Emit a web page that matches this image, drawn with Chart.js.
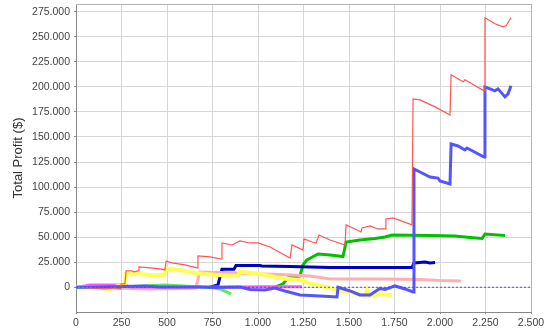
<!DOCTYPE html>
<html>
<head>
<meta charset="utf-8">
<script src="https://cdn.jsdelivr.net/npm/chart.js@4/dist/chart.umd.min.js"></script>
<style>
  html, body { margin: 0; padding: 0; background: #fff; }
  #wrap { width: 544px; height: 332px; }
</style>
</head>
<body>
<div id="wrap"><canvas id="profitChart"></canvas></div>
<script>
// [trade #, total profit $]
const redSeries = [
    [0, 0], [77, -700], [159, -1700], [214, -700], [242, -1700], [247, 3300], [269, 3300],
    [275, 16300], [308, 16300], [319, 15300], [341, 16300], [346, 20300], [407, 19300],
    [462, 18300], [489, 17300], [495, 26200], [527, 24300], [599, 22300], [665, 19300],
    [670, 31200], [736, 30300], [797, 28200], [802, 44200], [857, 42200], [901, 46200],
    [956, 44200], [1000, 44200], [1066, 40200], [1176, 29200], [1187, 42200], [1247, 37200],
    [1253, 48200], [1297, 45200], [1319, 44200], [1335, 52200], [1396, 47200], [1478, 42200],
    [1484, 62200], [1533, 58200], [1566, 55200], [1572, 59200], [1616, 61200], [1659, 58200],
    [1698, 58200], [1703, 68200], [1742, 69200], [1846, 62200], [1852, 188000], [1890, 187000],
    [1973, 180000], [2055, 172000], [2061, 212000], [2127, 205000], [2137, 207000],
    [2242, 196000], [2247, 269000], [2302, 263000], [2346, 260000], [2363, 261000], [2390, 269000]
];
const blueSeries = [
    [0, 0], [132, 300], [379, 1300], [462, 300], [681, 300], [764, -200], [901, 300],
    [956, -2200], [1038, -2700], [1093, -700], [1148, -3700], [1231, -7700], [1341, -8700],
    [1434, -9700], [1440, 0], [1506, -3700], [1560, -7700], [1615, -7700], [1670, -1200],
    [1698, -2200], [1753, 1300], [1808, -1700], [1852, -4700], [1857, 118000], [1890, 115000],
    [1945, 110000], [1989, 109000], [2000, 106000], [2055, 103000], [2061, 143000],
    [2099, 141000], [2137, 137000], [2148, 139000], [2242, 130000], [2247, 200000],
    [2275, 198000], [2302, 196000], [2319, 198000], [2357, 190000], [2374, 193000], [2390, 201000]
];
const greenSeries = [
    [0, 0], [242, 300], [489, 2300], [544, 1800], [681, 300], [764, -700], [791, -1700], [852, -6700]
];
const yellowSeries = [
    [0, 0], [132, -700], [187, -1700], [247, 2300], [269, 3300], [275, 13300], [352, 13300],
    [407, 12300], [484, 12300], [495, 18800], [571, 17300], [659, 14300], [769, 12300],
    [890, 11300], [901, 15800], [1011, 13300], [1137, 8800], [1231, 7300], [1286, 3800],
    [1396, -700], [1434, -2700], [1506, -4700], [1588, -8700], [1599, -2700], [1610, -8700],
    [1670, -6700], [1736, -7700]
];
const magentaSeries = [
    [0, 0], [49, 1300], [77, 2300], [269, 2300], [297, 300], [681, 300], [901, 300],
    [1038, 600], [1242, 600]
];
const pinkSeries = [
    [0, 0], [187, -700], [407, -1700], [571, -1200], [659, -700], [665, 4300], [681, 15300],
    [791, 14800], [956, 13800], [1121, 12800], [1286, 11300], [1396, 8300], [1670, 8300],
    [1890, 7800], [2000, 6800], [2115, 6300]
];
const darkBlueSeries = [
    [736, 0], [780, 2300], [802, 18000], [868, 18000], [879, 21600], [1011, 21600],
    [1022, 21300], [1176, 20800], [1396, 19800], [1846, 19600], [1857, 24300], [1918, 25200],
    [1945, 24300], [1973, 24600]
];
const darkGreenSeries = [
    [1093, 0], [1137, 3300], [1165, 9300], [1231, 11300], [1247, 22300], [1269, 27200],
    [1330, 33200], [1396, 32200], [1467, 30700], [1484, 45200], [1560, 47200], [1643, 48700],
    [1698, 50200], [1736, 52200], [1945, 51700], [2082, 51200], [2165, 49700], [2231, 48700],
    [2247, 53200], [2357, 51700]
];
const zeroLine = [[0, 0], [2500, 0]];

const xTicks = [0, 250, 500, 750, 1000, 1250, 1500, 1750, 2000, 2250, 2500];
const yTicks = [0, 25000, 50000, 75000, 100000, 125000, 150000, 175000, 200000, 225000, 250000, 275000];

function toPoints(arr) {
    return arr.map(p => ({ x: p[0], y: p[1] }));
}

function dotted(n) {
    return String(n).replace(/\B(?=(\d{3})+(?!\d))/g, '.');
}

function line(data, color, width) {
    return {
        data: toPoints(data),
        borderColor: color,
        borderWidth: width,
        pointRadius: 0,
        tension: 0,
        fill: false
    };
}

// frame around the plot area
const frame = {
    id: 'frame',
    afterDraw(chart) {
        const a = chart.chartArea;
        const ctx = chart.ctx;
        ctx.save();
        ctx.strokeStyle = '#b4b4b4';
        ctx.lineWidth = 1;
        ctx.beginPath();
        ctx.moveTo(a.left, a.top + 0.5);
        ctx.lineTo(a.right + 0.5, a.top + 0.5);
        ctx.lineTo(a.right + 0.5, a.bottom);
        ctx.stroke();
        ctx.restore();
    }
};

const zero = line(zeroLine, '#4a4aff', 1);
zero.borderDash = [2, 2];

new Chart(document.getElementById('profitChart').getContext('2d'), {
    type: 'line',
    data: {
        datasets: [
            zero,
            line(redSeries, '#ff5555', 1.2),
            line(blueSeries, '#5555ff', 3),
            line(greenSeries, '#55ee55', 3),
            line(yellowSeries, '#ffff55', 4),
            line(magentaSeries, '#ff55ff', 3),
            line(pinkSeries, '#ffafaf', 3),
            line(darkBlueSeries, '#0000c0', 3),
            line(darkGreenSeries, '#00c000', 3)
        ]
    },
    options: {
        responsive: true,
        maintainAspectRatio: false,
        animation: false,
        events: [],
        layout: { padding: { top: 4, right: 13, left: 0, bottom: 0 } },
        plugins: {
            legend: { display: false },
            tooltip: { enabled: false }
        },
        scales: {
            x: {
                type: 'linear',
                min: 0,
                max: 2500,
                afterFit: s => { s.height = 20; s.paddingLeft = 0; s.paddingRight = 0; },
                afterBuildTicks: s => { s.ticks = xTicks.map(v => ({ value: v })); },
                grid: {
                    color: '#d6d6d6',
                    borderDash: [2, 2],
                    tickLength: 2,
                    tickColor: '#888',
                    tickBorderDash: []
                },
                border: { display: true, color: '#888' },
                ticks: {
                    padding: 3,
                    color: '#444',
                    maxRotation: 0,
                    font: { family: 'Liberation Sans', size: 10.5 },
                    callback: v => dotted(v)
                }
            },
            y: {
                type: 'linear',
                min: -24700,
                max: 282700,
                afterFit: s => { s.width = 76; s.paddingTop = 0; s.paddingBottom = 0; },
                afterBuildTicks: s => { s.ticks = yTicks.map(v => ({ value: v })); },
                grid: {
                    color: '#d6d6d6',
                    borderDash: [2, 2],
                    tickLength: 2,
                    tickColor: '#888',
                    tickBorderDash: []
                },
                border: { display: true, color: '#888' },
                title: {
                    display: true,
                    text: 'Total Profit ($)',
                    color: '#333',
                    font: { family: 'Liberation Sans', size: 13 },
                    padding: { top: 11, bottom: 0 }
                },
                ticks: {
                    padding: 4,
                    color: '#444',
                    font: { family: 'Liberation Sans', size: 10.5 },
                    callback: v => dotted(v)
                }
            }
        }
    },
    plugins: [frame]
});
</script>
</body>
</html>
